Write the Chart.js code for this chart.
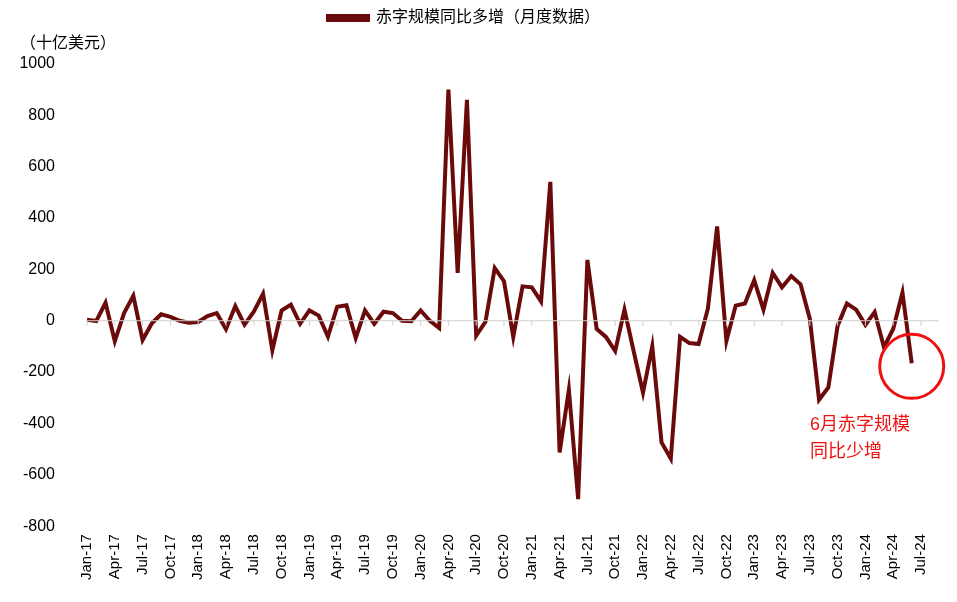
<!DOCTYPE html>
<html>
<head>
    <meta charset="utf-8">
    <title>赤字规模同比多增</title>
    <style>
        body { margin: 0; background: #fff; }
        #box { width: 957px; height: 602px; }
    </style>
</head>
<body>
    <div id="box"><canvas id="grafico"></canvas></div>
    <script src="https://cdn.jsdelivr.net/npm/chart.js"></script>
    <script>
        // dados mensais Jan-17 .. Jun-24 (Jul-24 só rótulo)
        var meses = ["Jan","Feb","Mar","Apr","May","Jun","Jul","Aug","Sep","Oct","Nov","Dec"];
        var categorias = [];
        for (var a = 17; a <= 24; a++) {
            for (var m = 0; m < 12; m++) {
                if (a === 24 && m > 6) break;
                categorias.push(meses[m] + "-" + a);
            }
        }
        var valores = [
            4, -1, 70, -80, 30, 97, -75, -10, 25, 15, 0, -8,
            -5, 18, 30, -33, 57, -15, 35, 105, -115, 40, 63, -12,
            40, 20, -62, 54, 60, -67, 40, -12, 35, 30, 0, -2,
            40, 0, -28, 900, 186, 860, -58, -4, 205, 154, -63, 134,
            130, 75, 541, -513, -269, -695, 237, -32, -63, -118, 43, -120,
            -280, -99, -474, -537, -63, -87, -91, 47, 367, -79, 59, 67,
            158, 43, 186, 130, 174, 142, 8, -308, -260, -20, 67, 43,
            -16, 34, -103, -32, 110, -166, null
        ];
        var nomeSerie = "赤字规模同比多增（月度数据）";
        var unidade = "（十亿美元）";
        var nota = ["6月赤字规模", "同比少增"];
        var fonte = "'Liberation Sans', 'Noto Sans CJK SC', sans-serif";

        var extras = {
            id: "extras",
            beforeInit: function (chart) {
                var f = chart.legend.fit;
                chart.legend.fit = function () { f.call(this); this.height += 28; };
            },
            afterDraw: function (chart) {
                var ctx = chart.ctx, x = chart.scales.x, y = chart.scales.y;
                var y0 = y.getPixelForValue(0);
                ctx.save();
                // linha do zero com marcas
                ctx.strokeStyle = "#d0d0d0"; ctx.lineWidth = 1;
                ctx.beginPath();
                ctx.moveTo(x.left, y0); ctx.lineTo(x.right + 18, y0);
                for (var i = 0; i < categorias.length; i += 3) {
                    var px = x.getPixelForValue(i);
                    ctx.moveTo(px, y0); ctx.lineTo(px, y0 + 5);
                }
                ctx.stroke();
                // unidade
                ctx.fillStyle = "#000"; ctx.font = "16px " + fonte;
                ctx.textAlign = "left"; ctx.textBaseline = "middle";
                ctx.fillText(unidade, 20, 44);
                // círculo e nota
                var ultimo = 89;
                var cx = x.getPixelForValue(ultimo), cy = y.getPixelForValue(valores[ultimo]);
                ctx.strokeStyle = "#ee1111"; ctx.lineWidth = 3;
                ctx.beginPath(); ctx.arc(cx, cy + 3, 32, 0, Math.PI * 2); ctx.stroke();
                ctx.fillStyle = "#ee1111"; ctx.font = "18px " + fonte;
                ctx.textAlign = "left";
                ctx.fillText(nota[0], 810, 425);
                ctx.fillText(nota[1], 810, 452);
                ctx.restore();
            }
        };

        new Chart(document.getElementById("grafico"), {
            type: "line",
            data: {
                labels: categorias,
                datasets: [{
                    label: nomeSerie,
                    data: valores,
                    borderColor: "#6b0a0a",
                    backgroundColor: "#6b0a0a",
                    borderWidth: 4,
                    pointRadius: 0,
                    tension: 0
                }]
            },
            options: {
                responsive: true,
                maintainAspectRatio: false,
                animation: false,
                layout: { padding: { top: 0, right: 36, left: 7, bottom: 14 } },
                plugins: {
                    legend: {
                        labels: {
                            boxWidth: 40, boxHeight: 4, color: "#000",
                            font: { size: 16, family: fonte }
                        }
                    },
                    tooltip: { enabled: false }
                },
                scales: {
                    x: {
                        offset: false,
                        grid: { display: false, drawTicks: false },
                        border: { display: false },
                        ticks: {
                            autoSkip: false, maxRotation: 90, minRotation: 90,
                            color: "#000", font: { size: 15, family: fonte },
                            padding: 8,
                            callback: function (v, i) { return i % 3 === 0 ? categorias[i] : null; }
                        }
                    },
                    y: {
                        min: -800, max: 1000,
                        afterFit: function (s) { s.width = 80; },
                        grid: { display: false },
                        border: { display: false },
                        ticks: {
                            stepSize: 200, color: "#000", font: { size: 16, family: fonte }, padding: 24,
                            callback: function (v) { return String(v); }
                        }
                    }
                }
            },
            plugins: [extras]
        });
    </script>
</body>
</html>
